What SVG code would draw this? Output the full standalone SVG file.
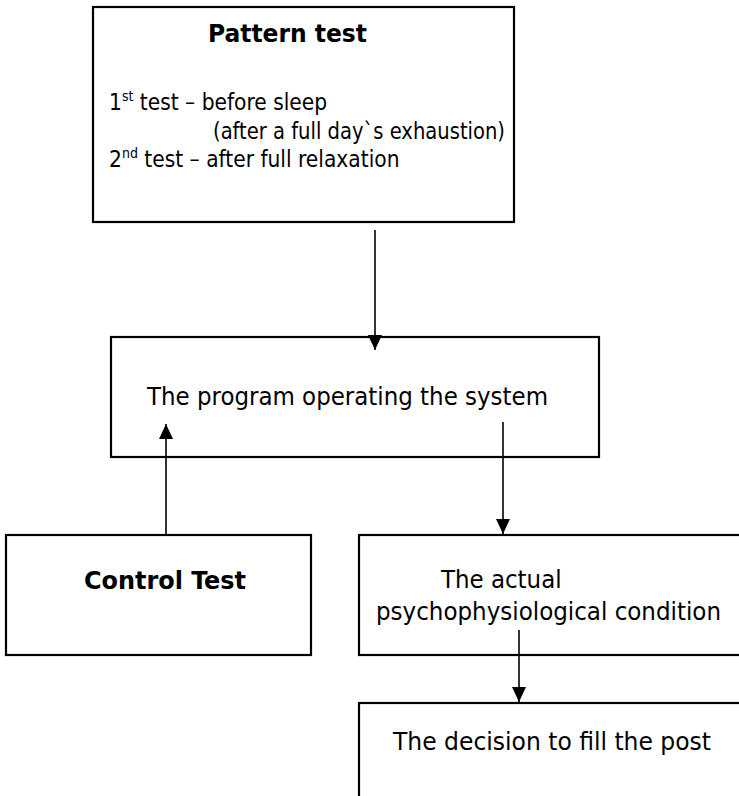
<svg xmlns="http://www.w3.org/2000/svg" width="739" height="796" viewBox="0 0 739 796">
  <style>
    .box { fill: #ffffff; stroke: #000000; stroke-width: 2.2; }
    .link { fill: none; stroke: #000000; stroke-width: 1.6; }
    .txt { font-family: "DejaVu Sans Condensed", "DejaVu Sans", sans-serif; font-stretch: condensed; fill: #000000; }
    .big { font-size: 25.5px; }
    .mid { font-size: 22.5px; }
    .bold { font-weight: bold; font-size: 25px; }
    .sup { font-size: 14px; }
  </style>
  <defs>
    <marker id="arrow" markerUnits="userSpaceOnUse" markerWidth="16" markerHeight="16" viewBox="0 0 16 16" refX="15" refY="8" orient="auto">
      <path d="M0,1 L15,8 L0,15 Z" fill="#000000"/>
    </marker>
  </defs>
  <rect width="739" height="796" fill="#ffffff"/>

  <!-- pattern test box -->
  <g id="pattern-test">
    <rect class="box" x="93" y="7" width="421" height="215"/>
    <text class="txt bold" x="208" y="42" textLength="159" lengthAdjust="spacingAndGlyphs">Pattern test</text>
    <text class="txt mid" x="109" y="110">1<tspan class="sup" dy="-9">st</tspan><tspan dy="9"> test – before sleep</tspan></text>
    <text class="txt mid" x="213" y="139" textLength="292" lengthAdjust="spacingAndGlyphs">(after a full day`s exhaustion)</text>
    <text class="txt mid" x="109" y="167">2<tspan class="sup" dy="-9">nd</tspan><tspan dy="9"> test – after full relaxation</tspan></text>
  </g>

  <!-- program box -->
  <g id="program">
    <rect class="box" x="111" y="337" width="488" height="120"/>
    <text class="txt big" x="147" y="405" textLength="401" lengthAdjust="spacingAndGlyphs">The program operating the system</text>
  </g>

  <!-- control test box -->
  <g id="control-test">
    <rect class="box" x="6" y="535" width="305" height="120"/>
    <text class="txt bold" x="84" y="589" textLength="162" lengthAdjust="spacingAndGlyphs">Control Test</text>
  </g>

  <!-- actual condition box (runs past the right edge) -->
  <g id="actual-condition">
    <rect class="box" x="359" y="535" width="420" height="120"/>
    <text class="txt big" x="441" y="588">The actual</text>
    <text class="txt big" x="376" y="620" textLength="345" lengthAdjust="spacingAndGlyphs">psychophysiological condition</text>
  </g>

  <!-- decision box (runs past the right and bottom edges) -->
  <g id="decision">
    <rect class="box" x="359" y="703" width="420" height="140"/>
    <text class="txt big" x="393" y="750" textLength="318" lengthAdjust="spacingAndGlyphs">The decision to fill the post</text>
  </g>

  <!-- connectors -->
  <g id="connectors">
    <line class="link" x1="375" y1="230" x2="375" y2="350" marker-end="url(#arrow)"/>
    <line class="link" x1="166" y1="535" x2="166" y2="424" marker-end="url(#arrow)"/>
    <line class="link" x1="503" y1="422" x2="503" y2="534" marker-end="url(#arrow)"/>
    <line class="link" x1="519" y1="630" x2="519" y2="702" marker-end="url(#arrow)"/>
  </g>
</svg>
